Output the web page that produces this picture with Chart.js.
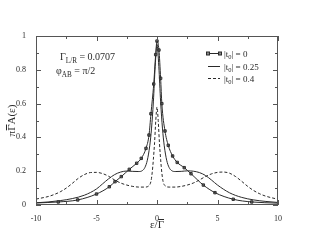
<!DOCTYPE html>
<html>
<head>
<meta charset="utf-8">
<script src="https://cdn.jsdelivr.net/npm/chart.js@4.4.0/dist/chart.umd.min.js"></script>
<style>
html,body{margin:0;padding:0;background:#fff;}
#c{display:block;}
</style>
</head>
<body>
<canvas id="c" width="314" height="243"></canvas>
<script>
// ---- data ----
const legendLabels = ['0', '0.25', '0.4'];

// |t0| = 0 (line with square markers); first & last points are line ends only
const s0X = [-10, -8.16, -6.55, -5.0, -3.94, -3.47, -2.95, -2.29, -1.68, -1.30, -0.91, -0.66, -0.50, -0.27, -0.11, 0.0, 0.16, 0.30, 0.40, 0.66, 0.93, 1.29, 1.67, 2.25, 2.81, 3.83, 4.79, 6.30, 7.83, 10];
const s0Y = [0.012, 0.018, 0.030, 0.065, 0.108, 0.138, 0.168, 0.211, 0.247, 0.276, 0.335, 0.414, 0.540, 0.716, 0.890, 0.970, 0.917, 0.750, 0.600, 0.438, 0.353, 0.290, 0.252, 0.221, 0.185, 0.118, 0.073, 0.034, 0.018, 0.011];

// |t0| = 0.25 (solid)
const s1X = [-10, -9, -8, -7, -6, -5, -4.5, -4, -3.5, -3, -2.5, -2, -1.5, -1.2, -1.0, -0.8, -0.6, -0.45, -0.3, -0.15, 0, 0.15, 0.3, 0.45, 0.6, 0.8, 1.0, 1.2, 1.5, 2, 2.5, 3, 3.5, 4, 4.5, 5, 6, 7, 8, 9, 10];
const s1Y = [0.013, 0.018, 0.026, 0.038, 0.058, 0.095, 0.125, 0.155, 0.180, 0.195, 0.201, 0.199, 0.198, 0.204, 0.222, 0.265, 0.350, 0.455, 0.610, 0.820, 0.950, 0.820, 0.610, 0.455, 0.350, 0.265, 0.222, 0.204, 0.198, 0.199, 0.202, 0.200, 0.192, 0.175, 0.148, 0.118, 0.072, 0.045, 0.030, 0.021, 0.015];

// |t0| = 0.4 (dashed)
const s2X = [-10, -9, -8.5, -8, -7.5, -7, -6.5, -6, -5.5, -5, -4.5, -4, -3.5, -3, -2.5, -2, -1.5, -1, -0.7, -0.5, -0.4, -0.3, -0.2, -0.1, 0, 0.1, 0.2, 0.3, 0.4, 0.5, 0.7, 1, 1.5, 2, 2.5, 3, 3.5, 4, 4.5, 5, 5.5, 6, 6.5, 7, 7.5, 8, 8.5, 9, 10];
const s2Y = [0.035, 0.050, 0.062, 0.078, 0.100, 0.128, 0.158, 0.180, 0.192, 0.193, 0.186, 0.170, 0.148, 0.130, 0.118, 0.110, 0.106, 0.106, 0.112, 0.140, 0.190, 0.270, 0.370, 0.500, 0.580, 0.500, 0.370, 0.270, 0.190, 0.140, 0.112, 0.106, 0.106, 0.110, 0.118, 0.130, 0.148, 0.168, 0.184, 0.193, 0.195, 0.188, 0.168, 0.140, 0.110, 0.085, 0.066, 0.052, 0.034];

const xTickLabels = ['-10', '-5', '0', '5', '10'];
const yTickLabels = ['0', '0.2', '0.4', '0.6', '0.8', '1'];
const xMajor = [-10, -5, 0, 5, 10];
const xMinor = [-7.5, -2.5, 2.5, 7.5];
const yMajor = [0, 0.2, 0.4, 0.6, 0.8, 1];
const yMinor = [0.1, 0.3, 0.5, 0.7, 0.9];

// ---- helpers ----
const pts = (xs, ys) => xs.map((x, i) => ({x: x, y: ys[i]}));
const SERIF = '"Liberation Serif", "DejaVu Serif", serif';
const INK = '#2a2a2a';

function drawRich(ctx, parts, x, y, size) {
  let cx = x;
  for (const [t, m] of parts) {
    const s = m ? size * 0.72 : size;
    ctx.font = s + 'px ' + SERIF;
    ctx.fillText(t, cx, m ? y + size * 0.28 : y);
    cx += ctx.measureText(t).width;
  }
  return cx;
}

const decor = {
  id: 'decor',
  afterDraw(chart) {
    const ctx = chart.ctx, a = chart.chartArea;
    const xs = chart.scales.x, ys = chart.scales.y;
    ctx.save();
    ctx.strokeStyle = '#555';
    ctx.lineWidth = 1;
    ctx.strokeRect(Math.round(a.left) + 0.5, Math.round(a.top) + 0.5,
                   Math.round(a.right - a.left) - 1, Math.round(a.bottom - a.top) - 1);
    ctx.beginPath();
    const xt = (v, L) => {
      const p = Math.round(xs.getPixelForValue(v)) + 0.5;
      ctx.moveTo(p, a.bottom); ctx.lineTo(p, a.bottom - L);
      ctx.moveTo(p, a.top); ctx.lineTo(p, a.top + L);
    };
    const yt = (v, L) => {
      const p = Math.round(ys.getPixelForValue(v)) + 0.5;
      ctx.moveTo(a.left, p); ctx.lineTo(a.left + L, p);
      ctx.moveTo(a.right, p); ctx.lineTo(a.right - L, p);
    };
    xMajor.forEach(v => xt(v, 5)); xMinor.forEach(v => xt(v, 3));
    yMajor.forEach(v => yt(v, 5)); yMinor.forEach(v => yt(v, 3));
    ctx.stroke();

    ctx.fillStyle = INK;
    ctx.textBaseline = 'alphabetic';
    ctx.textAlign = 'left';
    drawRich(ctx, [['\u0393', 0], ['L/R', 1], [' = 0.0707', 0]], 60, 60, 10);
    drawRich(ctx, [['\u03C6', 0], ['AB', 1], [' = \u03C0/2', 0]], 56, 74, 10);

    const lx0 = 208, lx1 = 220, tx = 224;
    const rows = [53, 66, 78];
    ctx.strokeStyle = INK;
    ctx.lineWidth = 1;
    ctx.beginPath(); ctx.moveTo(lx0, rows[0] + 0.5); ctx.lineTo(lx1, rows[0] + 0.5); ctx.stroke();
    [lx0, lx1].forEach(px => {
      ctx.fillStyle = '#888';
      ctx.fillRect(px - 1.5, rows[0] - 1, 3, 3);
      ctx.strokeRect(px - 1.5, rows[0] - 1, 3, 3);
    });
    ctx.beginPath(); ctx.moveTo(lx0, rows[1] + 0.5); ctx.lineTo(lx1, rows[1] + 0.5); ctx.stroke();
    ctx.setLineDash([3, 2]);
    ctx.beginPath(); ctx.moveTo(lx0, rows[2] + 0.5); ctx.lineTo(lx1, rows[2] + 0.5); ctx.stroke();
    ctx.setLineDash([]);
    ctx.fillStyle = INK;
    legendLabels.forEach((lab, i) => {
      drawRich(ctx, [['|t', 0], ['0', 1], ['| = ' + lab, 0]], tx, rows[i] + 3.5, 9);
    });

    ctx.font = '11px ' + SERIF;
    const t1 = '\u03B5/', t2 = '\u0393';
    const w1 = ctx.measureText(t1).width, w2 = ctx.measureText(t2).width;
    let sx = (a.left + a.right) / 2 - (w1 + w2) / 2;
    ctx.fillText(t1, sx, 228);
    ctx.fillText(t2, sx + w1, 228);
    ctx.beginPath();
    ctx.moveTo(sx + w1 + 0.5, 219.5); ctx.lineTo(sx + w1 + w2, 219.5); ctx.stroke();

    ctx.save();
    ctx.translate(15, (a.top + a.bottom) / 2);
    ctx.rotate(-Math.PI / 2);
    ctx.font = '11px ' + SERIF;
    const p1 = '\u03C0', p2 = '\u0393', p3 = 'A(\u03B5)';
    const q1 = ctx.measureText(p1).width, q2 = ctx.measureText(p2).width, q3 = ctx.measureText(p3).width;
    let sy = -(q1 + q2 + q3) / 2;
    ctx.fillText(p1, sy, 0);
    ctx.fillText(p2, sy + q1, 0);
    ctx.fillText(p3, sy + q1 + q2, 0);
    ctx.beginPath();
    ctx.moveTo(sy + q1 + 0.5, -8.5); ctx.lineTo(sy + q1 + q2, -8.5); ctx.stroke();
    ctx.restore();

    ctx.restore();
  }
};

new Chart(document.getElementById('c'), {
  type: 'scatter',
  data: {
    datasets: [
      {data: pts(s0X, s0Y), showLine: true, borderColor: INK, borderWidth: 1, pointRadius: 0, cubicInterpolationMode: 'monotone'},
      {data: pts(s0X.slice(1, -1), s0Y.slice(1, -1)), showLine: false, pointStyle: 'rect', pointRadius: 1.7, backgroundColor: '#888', borderColor: '#333', borderWidth: 1},
      {data: pts(s1X, s1Y), showLine: true, borderColor: INK, borderWidth: 1, pointRadius: 0, cubicInterpolationMode: 'monotone'},
      {data: pts(s2X, s2Y), showLine: true, borderColor: INK, borderWidth: 1, borderDash: [3, 2], pointRadius: 0, cubicInterpolationMode: 'monotone'}
    ]
  },
  options: {
    responsive: false,
    animation: false,
    devicePixelRatio: 1,
    layout: {padding: {top: 36, right: 36, left: 0, bottom: 0}},
    plugins: {legend: {display: false}, tooltip: {enabled: false}},
    scales: {
      x: {
        type: 'linear', min: -10, max: 10,
        grid: {display: false}, border: {display: false},
        ticks: {stepSize: 5, padding: 1, color: INK, font: {family: SERIF, size: 8},
                maxRotation: 0,
                callback: (v) => { const i = xMajor.indexOf(v); return i >= 0 ? xTickLabels[i] : ''; }},
        afterFit: (s) => { s.height = 38; }
      },
      y: {
        type: 'linear', min: 0, max: 1,
        grid: {display: false}, border: {display: false},
        ticks: {stepSize: 0.2, padding: 2, color: INK, font: {family: SERIF, size: 8},
                callback: (v) => { const i = yMajor.findIndex(m => Math.abs(m - v) < 1e-6); return i >= 0 ? yTickLabels[i] : ''; }},
        afterFit: (s) => { s.width = 36; }
      }
    }
  },
  plugins: [decor]
});
</script>
</body>
</html>
